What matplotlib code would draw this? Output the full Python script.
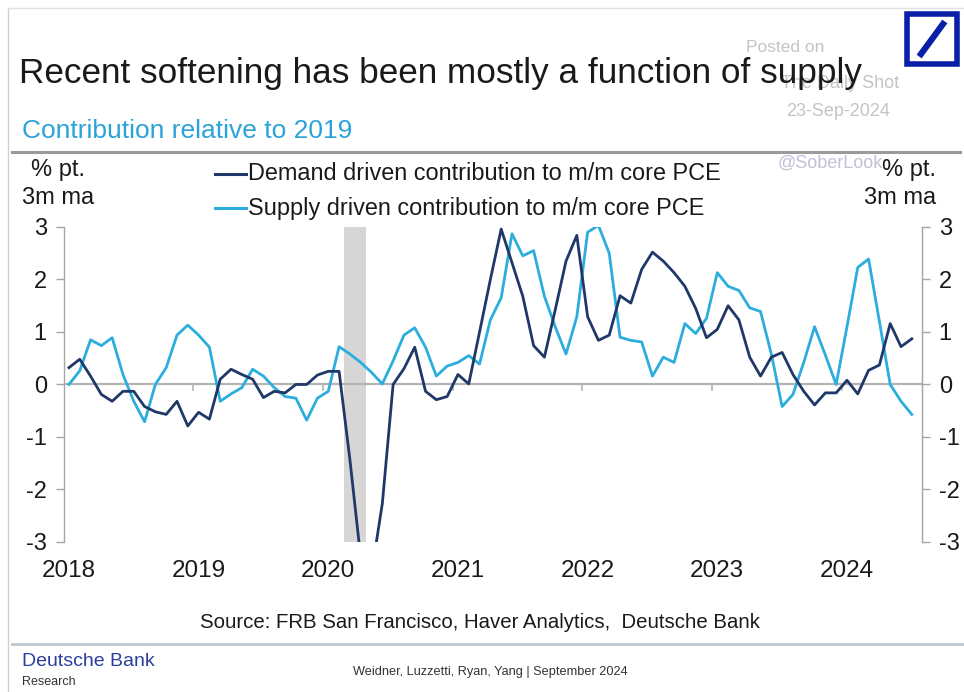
import numpy as np
import pandas as pd
import matplotlib
matplotlib.use("Agg")
import matplotlib.pyplot as plt
from matplotlib.patches import Rectangle
from matplotlib.lines import Line2D

plt.rcParams['font.family'] = ['Liberation Sans', 'DejaVu Sans']
plt.rcParams['axes.unicode_minus'] = False

# monthly, Jan 2018 .. Jul 2024, % pt. 3m ma
months = pd.date_range("2018-01-01", "2024-07-01", freq="MS")

demand = [0.32, 0.48, 0.16, -0.19, -0.32, -0.13, -0.13, -0.42, -0.52, -0.57, -0.32, -0.79,
          -0.53, -0.66, 0.10, 0.29, 0.19, 0.10, -0.25, -0.13, -0.16, 0.00, 0.00, 0.18,
          0.25, 0.25, -1.43, -3.3, -3.6, -2.27, 0.00, 0.30, 0.71, -0.13, -0.29, -0.23,
          0.19, 0.01, 1.00, 2.00, 2.96, 2.32, 1.68, 0.74, 0.52, 1.42, 2.35, 2.84,
          1.29, 0.84, 0.94, 1.69, 1.55, 2.19, 2.52, 2.35, 2.13, 1.87, 1.45, 0.89,
          1.05, 1.50, 1.23, 0.52, 0.16, 0.52, 0.61, 0.19, -0.13, -0.39, -0.16, -0.16,
          0.08, -0.18, 0.27, 0.37, 1.16, 0.72, 0.87]

supply = [0.00, 0.26, 0.85, 0.74, 0.89, 0.19, -0.32, -0.71, 0.00, 0.32, 0.94, 1.13,
          0.94, 0.71, -0.32, -0.18, -0.06, 0.29, 0.16, -0.06, -0.23, -0.26, -0.68, -0.26,
          -0.13, 0.72, 0.58, 0.42, 0.23, 0.01, 0.45, 0.94, 1.08, 0.71, 0.16, 0.35,
          0.42, 0.55, 0.39, 1.23, 1.65, 2.87, 2.45, 2.55, 1.68, 1.10, 0.58, 1.29,
          2.90, 3.03, 2.50, 0.90, 0.84, 0.81, 0.16, 0.52, 0.42, 1.16, 0.97, 1.26,
          2.13, 1.87, 1.79, 1.46, 1.39, 0.58, -0.42, -0.19, 0.42, 1.10, 0.56, 0.00,
          1.10, 2.23, 2.39, 1.20, 0.00, -0.32, -0.57]

years = [2018, 2019, 2020, 2021, 2022, 2023, 2024]
recession = (2020 + 2 / 12, 2020 + 4 / 12)

dark = "#1f3868"
light = "#2badde"
grey = "#a6a6a6"
txt = "#1a1a1a"

x = months.year + (months.month - 0.5) / 12

fig = plt.figure(figsize=(9.64, 6.92), dpi=100)
ax = fig.add_axes([0.0659, 0.2168, 0.9564 - 0.0659, 0.672 - 0.2168])

ax.axvspan(recession[0], recession[1], color="#d6d6d6", lw=0, zorder=1)
ax.axhline(0, color="#b4b4b4", lw=1.6, zorder=2)
for yr in years[1:]:
    ax.plot([yr, yr], [0, -0.1], color="#b4b4b4", lw=1.2, zorder=2)

ax.plot(x, demand, color=dark, lw=2.0, zorder=4)
ax.plot(x, supply, color=light, lw=2.0, zorder=3)

ax.set_xlim(2018, 2024.62)
ax.set_ylim(-3, 3)
ax.set_yticks(range(-3, 4))
ax.set_xticks([yr + 0.5 / 12 for yr in years])
ax.set_xticklabels([str(yr) for yr in years])
ax.tick_params(axis="x", length=0, pad=13, labelsize=17.5, colors=txt)
ax.tick_params(axis="y", length=6, width=1, color=grey, labelsize=17, labelcolor=txt, pad=6)

for s in ["top", "bottom"]:
    ax.spines[s].set_visible(False)
for s in ["left", "right"]:
    ax.spines[s].set_color(grey)
    ax.spines[s].set_linewidth(1.0)

ax2 = ax.twinx()
ax2.set_ylim(-3, 3)
ax2.set_yticks(range(-3, 4))
ax2.tick_params(axis="y", length=6, width=1, color=grey, labelsize=17, labelcolor=txt, pad=6)
for s in ["top", "bottom", "left"]:
    ax2.spines[s].set_visible(False)
ax2.spines["right"].set_color(grey)

# frame of the screenshot
fig.add_artist(Line2D([8 / 964, 8 / 964], [0, 1 - 8 / 692], transform=fig.transFigure, color="#d0d0d0", lw=1))
fig.add_artist(Line2D([8 / 964, 1], [1 - 8 / 692, 1 - 8 / 692], transform=fig.transFigure, color="#e0e0e0", lw=1))

# watermark (sits partly behind the title, as in the screenshot)
wm = "#c4c4c4"
fig.text(785 / 964, 1 - 47 / 692, "Posted on", fontsize=12.5, color=wm, ha="center", va="center")
fig.text(840 / 964, 1 - 84 / 692, "The Daily Shot", fontsize=13, color=wm, ha="center", va="center", zorder=0)
fig.text(838 / 964, 1 - 112 / 692, "23-Sep-2024", fontsize=13, color=wm, ha="center", va="center")
fig.text(830 / 964, 1 - 163 / 692, "@SoberLook", fontsize=13, color="#c0c0d8", ha="center", va="center")

# titles
fig.text(19 / 964, 1 - 73 / 692, "Recent softening has been mostly a function of supply",
         fontsize=25.3, color=txt, ha="left", va="center", zorder=5)
fig.text(22 / 964, 1 - 131 / 692, "Contribution relative to 2019", fontsize=19,
         color="#2ba3d9", ha="left", va="center")
fig.add_artist(Line2D([12 / 964, 960 / 964], [1 - 152 / 692, 1 - 152 / 692],
                      transform=fig.transFigure, color="#9a9a9a", lw=2.2))

# axis unit labels
fig.text(58 / 964, 1 - 170 / 692, "% pt.", fontsize=17, ha="center", va="center", color=txt)
fig.text(58 / 964, 1 - 198 / 692, "3m ma", fontsize=17, ha="center", va="center", color=txt)
fig.text(936 / 964, 1 - 170 / 692, "% pt.", fontsize=17, ha="right", va="center", color=txt)
fig.text(936 / 964, 1 - 198 / 692, "3m ma", fontsize=17, ha="right", va="center", color=txt)

# legend
leg = [("Demand driven contribution to m/m core PCE", dark, 174),
       ("Supply driven contribution to m/m core PCE", light, 208)]
for label, col, yy in leg:
    fig.add_artist(Line2D([215 / 964, 246 / 964], [1 - yy / 692, 1 - yy / 692],
                          transform=fig.transFigure, color=col, lw=2.2))
    fig.text(248 / 964, 1 - yy / 692, label, fontsize=16.9, ha="left", va="center", color=txt)

# source and footer
fig.text(480 / 964, 1 - 622 / 692, "Source: FRB San Francisco, Haver Analytics,  Deutsche Bank",
         fontsize=14.7, ha="center", va="center", color=txt)
fig.add_artist(Line2D([12 / 964, 964 / 964], [1 - 644 / 692, 1 - 644 / 692],
                      transform=fig.transFigure, color="#c0c6d0", lw=2))
fig.text(22 / 964, 1 - 661 / 692, "Deutsche Bank", fontsize=14, color="#2a3f9e", ha="left", va="center")
fig.text(22 / 964, 1 - 682 / 692, "Research", fontsize=9, color="#333333", ha="left", va="center")
fig.text(490 / 964, 1 - 672 / 692, "Weidner, Luzzetti, Ryan, Yang | September 2024",
         fontsize=9.2, color="#333333", ha="center", va="center")

# logo
logo_blue = "#0a1fa8"
fig.add_artist(Rectangle((907 / 964, 1 - 64 / 692), 50 / 964, 50 / 692, transform=fig.transFigure,
                         fill=False, edgecolor=logo_blue, lw=4))
fig.add_artist(Line2D([921 / 964, 943 / 964], [1 - 54 / 692, 1 - 24 / 692],
                      transform=fig.transFigure, color=logo_blue, lw=4.5))

fig.savefig("out.png", dpi=100, facecolor="white")
